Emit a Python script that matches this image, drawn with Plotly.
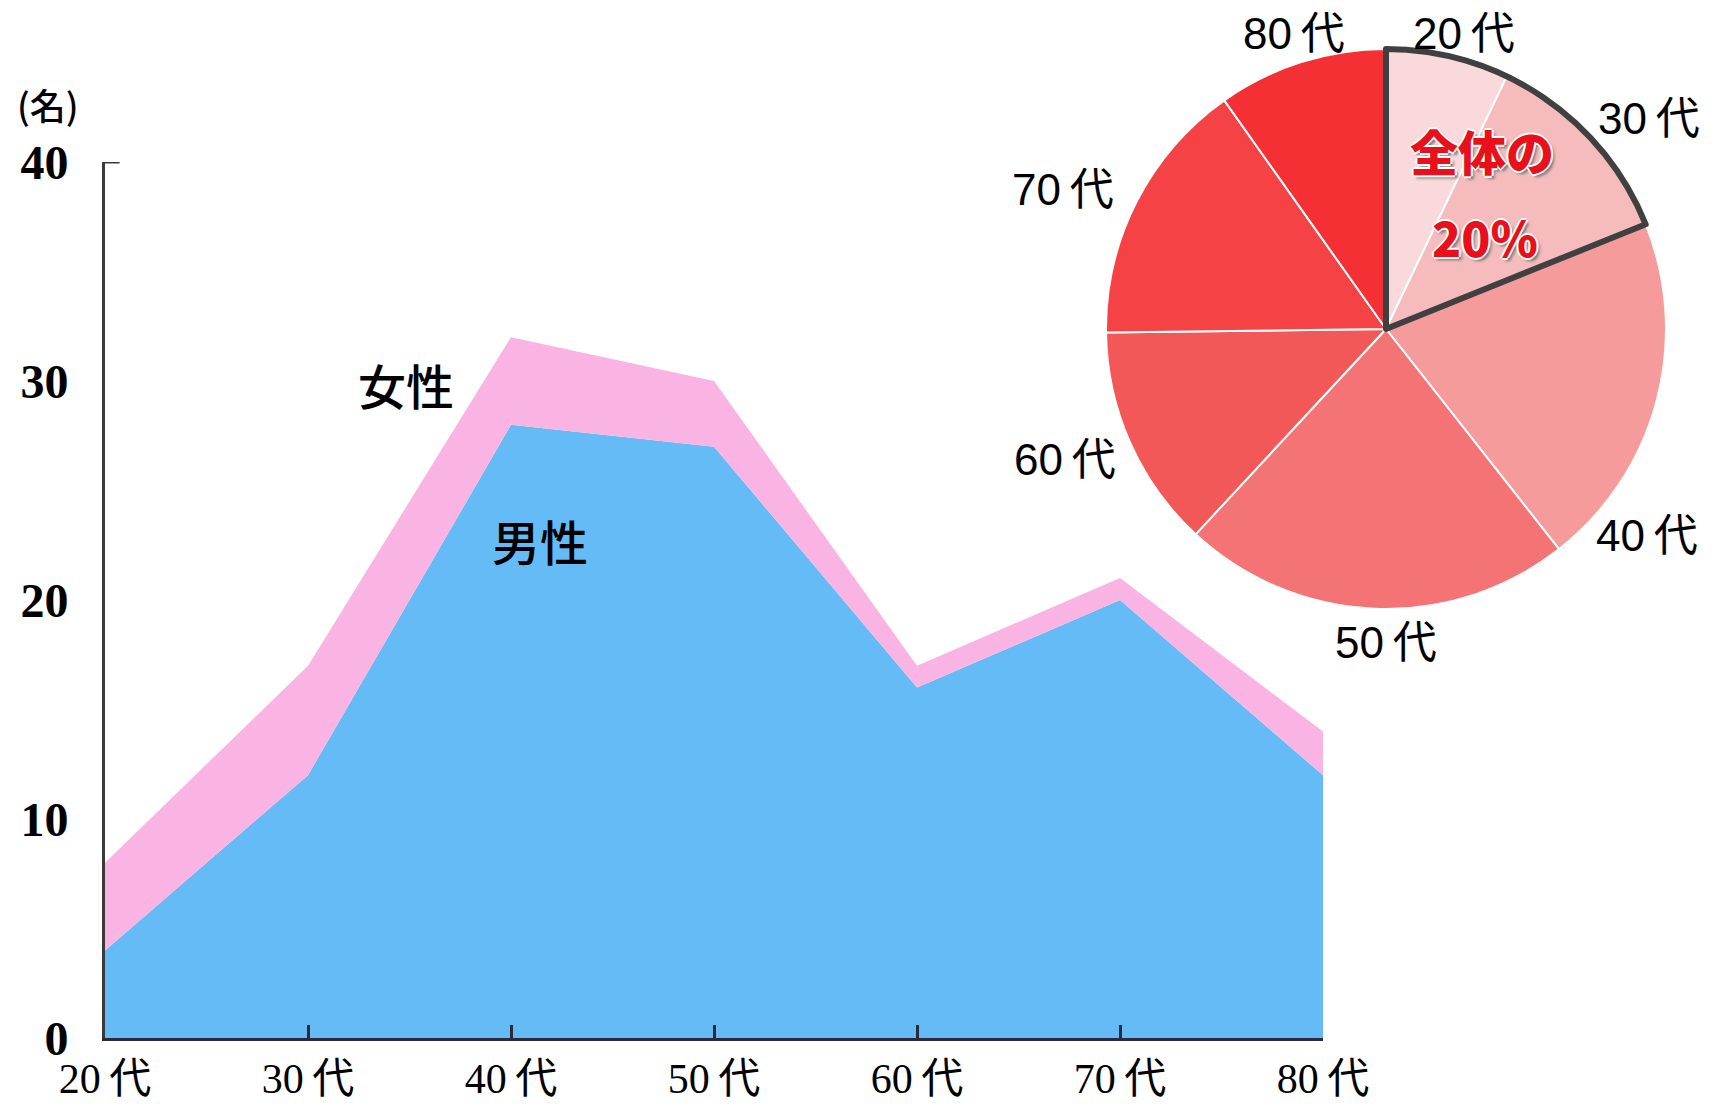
import plotly.graph_objects as go

# ---- data ----
ages = ["20代", "30代", "40代", "50代", "60代", "70代", "80代"]
male = [4, 12, 28, 27, 16, 20, 12]
female = [4, 5, 4, 3, 1, 1, 2]
pie_share = [7.1, 11.8, 20.5, 22.5, 12.9, 15.4, 9.8]
y_ticks = [0, 10, 20, 30, 40]

OFF = 8                      # page body margin
W, H = 1722 - 2 * OFF, 1113 - 2 * OFF


def fx(px):
    return (px - OFF) / W


def fy(py):
    return 1 - (py - OFF) / H


x_idx = list(range(len(ages)))
spaced = [a.replace("代", "\u2009代") for a in ages]

pie_colors = ["#f9d9db", "#f6bcbd", "#f59b9b", "#f47374",
              "#f35859", "#f44245", "#f43034"]

fig = go.Figure()

fig.add_trace(go.Scatter(
    x=x_idx, y=male, stackgroup="a", mode="none",
    fillcolor="#64bbf5", name="男性", hoverinfo="skip"))
fig.add_trace(go.Scatter(
    x=x_idx, y=female, stackgroup="a", mode="none",
    fillcolor="#f9b4e4", name="女性", hoverinfo="skip"))

# pie geometry (reference pixels -> paper)
cx, cy, r = 1386, 329, 280
pie_dom_x = [fx(cx - r), fx(cx + r)]
pie_dom_y = [fy(cy + r), fy(cy - r)]

fig.add_trace(go.Pie(
    values=pie_share, labels=ages, sort=False, direction="clockwise",
    rotation=0, textinfo="none", hoverinfo="skip", showlegend=False,
    marker=dict(colors=pie_colors, line=dict(color="white", width=2)),
    domain=dict(x=pie_dom_x, y=pie_dom_y)))

# outline highlighting 20代+30代
young = pie_share[0] + pie_share[1]
rest = sum(pie_share) - young
fig.add_trace(go.Pie(
    values=[young, rest], labels=["hl", "rest"], sort=False,
    direction="clockwise", rotation=0, textinfo="none",
    hoverinfo="skip", showlegend=False,
    marker=dict(colors=["rgba(0,0,0,0)", "rgba(0,0,0,0)"],
                line=dict(color=["#404040", "rgba(0,0,0,0)"], width=[6, 0])),
    domain=dict(x=pie_dom_x, y=pie_dom_y)))

x_l, x_r = 105, 1323
y_b, y_t = 1038, 162

fig.update_layout(
    width=W, height=H,
    margin=dict(l=0, r=0, t=0, b=0, pad=0, autoexpand=False),
    paper_bgcolor="white", plot_bgcolor="white",
    showlegend=False,
    xaxis=dict(
        domain=[fx(x_l), fx(x_r)], range=[0, len(ages) - 1],
        tickvals=x_idx, ticktext=spaced, automargin=False,
        ticks="inside", ticklen=13, tickwidth=3, tickcolor="#2a2a3a",
        showline=True, linecolor="#2a2a3a", linewidth=3,
        showgrid=False, zeroline=False,
        tickfont=dict(family="Liberation Serif, Noto Sans CJK JP", size=42, color="black"),
        ticklabelstandoff=2,
    ),
    yaxis=dict(
        domain=[fy(y_b), fy(y_t)], range=[0, 40],
        tickvals=y_ticks, ticks="", automargin=False,
        showline=True, linecolor="#3a3a3a", linewidth=3,
        showgrid=False, zeroline=False,
        tickfont=dict(family="Liberation Serif", size=48, color="black", weight="bold"),
        ticklabelstandoff=24,
    ),
)

# hook at top of y axis
fig.add_shape(type="line", xref="x domain", yref="y", x0=0, x1=0.012,
              y0=40, y1=40, line=dict(color="#3a3a3a", width=3))


def note(px, py, text, font):
    fig.add_annotation(x=fx(px), y=fy(py), xref="paper", yref="paper",
                       xanchor="center", yanchor="middle", borderpad=0,
                       text=text, showarrow=False, font=font)


ann_font = dict(family="Noto Sans CJK JP", size=48, color="black", weight=500)
note(48, 104, "(名)",
     dict(family="Noto Sans CJK JP", size=36, color="black", weight=500))
note(406, 384, "女性", ann_font)
note(540, 540, "男性", ann_font)

# pie labels
pie_label_pos = {
    "20代": (1464, 34), "30代": (1649, 119), "40代": (1647, 535),
    "50代": (1386, 642), "60代": (1065, 459), "70代": (1063, 189),
    "80代": (1294, 34),
}
for lab, txt in zip(ages, spaced):
    px, py = pie_label_pos[lab]
    note(px, py, txt, dict(family="Liberation Sans, Noto Sans CJK JP",
                           size=44, color="black"))

red_font = dict(family="Noto Sans CJK JP", size=48, color="#e8101a",
                weight=900,
                shadow="2px 0 0 #fff, -2px 0 0 #fff, 0 2px 0 #fff, 0 -2px 0 #fff, 3px 3px 3px #777")
note(1482, 150, "全体の", red_font)
note(1485, 236, "20%", red_font)

fig.write_html("out.html")
